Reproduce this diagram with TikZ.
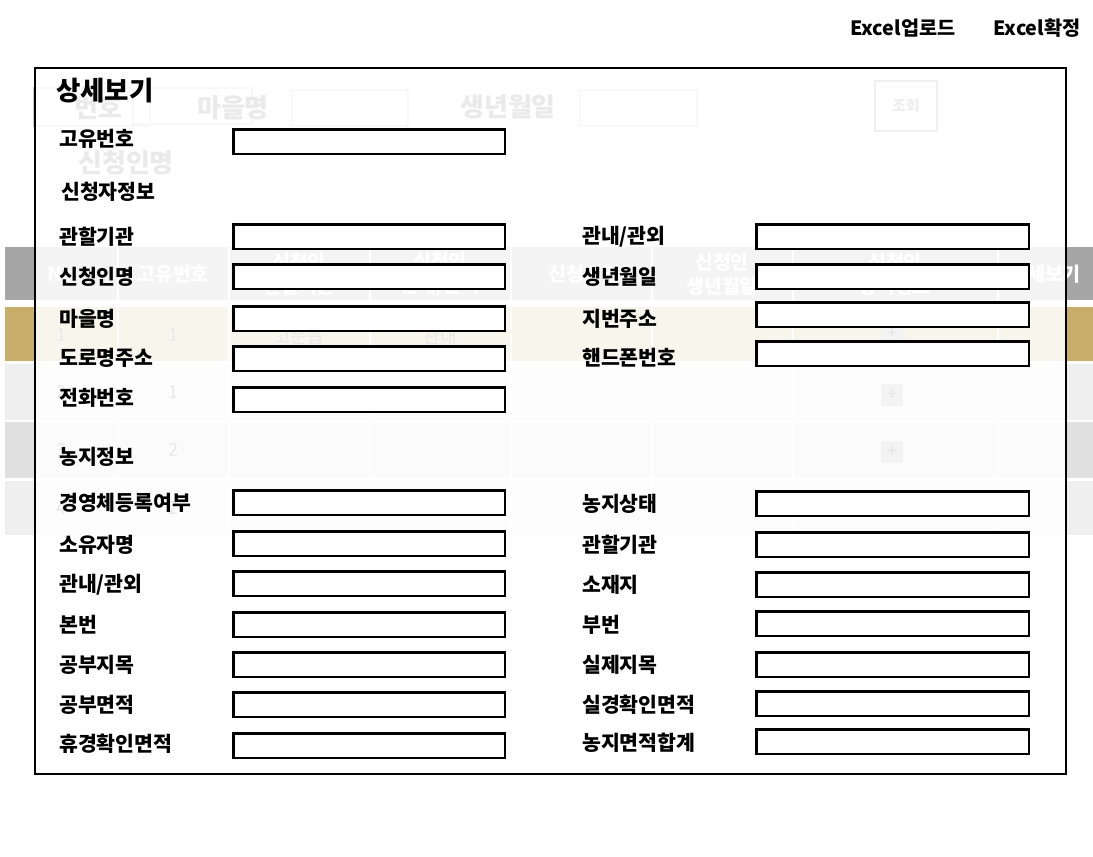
\documentclass[tikz,border=0pt]{standalone}
\usepackage{fontspec}
\setmainfont{Noto Sans CJK KR}
\definecolor{hdr}{HTML}{A6A6A6}
\definecolor{gold}{HTML}{C8AD6B}
\definecolor{rowa}{HTML}{EFEFEF}
\definecolor{rowb}{HTML}{E0E0E0}
\definecolor{bgdark}{HTML}{555555}
\definecolor{bgline}{HTML}{C8C8C8}
\definecolor{celltxt}{HTML}{444444}
\definecolor{plusbg}{HTML}{A0A0A0}
\definecolor{plusfg}{HTML}{333333}
\begin{document}
\begin{tikzpicture}[x=1pt,y=-1pt,
  fg/.style={font=\fontsize{20.5}{24}\selectfont\bfseries, inner sep=0, anchor=west},
  lfield/.style={draw=black, line width=2.5pt, fill=white, anchor=north west, minimum width=271.5pt, minimum height=24.5pt, inner sep=0},
  rfield/.style={lfield, minimum width=272.5pt},
  bgtxt/.style={font=\fontsize{26}{30}\selectfont\bfseries, text=bgdark, inner sep=0},
  bgbox/.style={draw=bgline, line width=1.2pt},
  hd/.style={font=\fontsize{19.5}{24}\selectfont\bfseries, text=white, align=center, inner sep=0},
  cell/.style={font=\fontsize{18}{20}\selectfont, text=celltxt, inner sep=0},
  plusbtn/.style={fill=plusbg, minimum size=22pt, inner sep=0, font=\fontsize{18}{18}\selectfont, text=plusfg},
  sep/.style={white, line width=2pt}
]
\useasboundingbox (0,0) rectangle (1093,857);
\fill[white] (0,0) rectangle (1093,857);

% ---------- top buttons ----------
\node[font=\fontsize{19.7}{23}\selectfont\bfseries, inner sep=0] (xlup) at (903,28) {Excel업로드};
\node[font=\fontsize{19.7}{23}\selectfont\bfseries, inner sep=0] (xlok) at (1037,28) {Excel확정};

% ---------- background search bar ----------
\draw[bgbox] (34,88) rectangle (150,126);
\draw[bgbox] (133,88) rectangle (252,124);
\draw[bgbox] (292,90) rectangle (408,126);
\draw[bgbox] (580,90) rectangle (697,126);
\node[bgtxt] (sno) at (98,108) {번호};
\node[bgtxt] (svil) at (233,108) {마을명};
\node[bgtxt] (sbirth) at (508,107) {생년월일};
\node[bgtxt] (sname) at (126,163) {신청인명};
\node[draw=bgdark!70, line width=1.5pt, minimum width=62pt, minimum height=50pt, inner sep=0,
      font=\fontsize{15}{17}\selectfont\bfseries, text=bgdark!80] (sbtn) at (906,106) {조회};

% ---------- background table ----------
\fill[hdr] (5,247) rectangle (1093,300);
\fill[gold] (5,307) rectangle (1093,361);
\fill[rowa] (5,364) rectangle (1093,420);
\fill[rowb] (5,422) rectangle (1093,478);
\fill[rowa] (5,481) rectangle (1093,535);
\foreach \cx in {117.5,229,370,511,652,793,998}{
  \draw[sep] (\cx,247) -- (\cx,535);
}
\node[hd] (h1) at (61,274) {No};
\node[hd] (h2) at (173,274) {고유번호};
\node[hd] (h3) at (299,274) {신청인\\관할기관};
\node[hd] (h4) at (440,274) {신청인\\관내/관외};
\node[hd] (h5) at (584,274) {신청인명};
\node[hd] (h6) at (722,274) {신청인\\생년월일};
\node[hd] (h7) at (895,274) {신청인\\농지정보};
\node[hd] (h8) at (1045,274) {상세보기};

\node[cell] (r1a) at (61,335) {1};
\node[cell] (r1b) at (173,335) {1};
\node[cell] (r1c) at (299,337) {고운읍};
\node[cell] (r1d) at (440,337) {관내};
\node[cell] (r2a) at (61,392) {2};
\node[cell] (r2b) at (173,392) {1};
\node[cell] (r3a) at (61,450) {3};
\node[cell] (r3b) at (173,450) {2};
\node[cell] (r4a) at (61,508) {4};
\node[cell] (r4b) at (173,508) {2};
\node[plusbtn] (p1) at (892,334) {+};
\node[plusbtn] (p2) at (892,395) {+};
\node[plusbtn] (p3) at (892,452) {+};

% ---------- modal panel (translucent) ----------
\node[draw=black, line width=2.5pt, fill=white, fill opacity=0.88, anchor=north west,
      minimum width=1031pt, minimum height=706pt, inner sep=0] (panel) at (33.5,66.5) {};

% ---------- foreground: title ----------
\node[font=\fontsize{26.5}{30}\selectfont\bfseries, inner sep=0, anchor=west] (title) at (56,91) {상세보기};

% ---------- left column ----------
\node[fg] (l1) at (59,139) {고유번호};
\node[lfield] (lf1) at (232.25,128.25) {};
\node[fg] (s1) at (61,192) {신청자정보};
\node[fg] (l2) at (59,237) {관할기관};
\node[lfield] (lf2) at (232.25,223.25) {};
\node[fg] (l3) at (59,277) {신청인명};
\node[lfield] (lf3) at (232.25,263.25) {};
\node[fg] (l4) at (59,319) {마을명};
\node[lfield] (lf4) at (232.25,305.25) {};
\node[fg] (l5) at (59,358) {도로명주소};
\node[lfield] (lf5) at (232.25,345.25) {};
\node[fg] (l6) at (59,398) {전화번호};
\node[lfield] (lf6) at (232.25,386.25) {};
\node[fg] (s2) at (59,457) {농지정보};
\node[fg] (l7) at (59,503) {경영체등록여부};
\node[lfield] (lf7) at (232.25,489.25) {};
\node[fg] (l8) at (59,545) {소유자명};
\node[lfield] (lf8) at (232.25,530.25) {};
\node[fg] (l9) at (59,585) {관내/관외};
\node[lfield] (lf9) at (232.25,570.25) {};
\node[fg] (l10) at (59,625) {본번};
\node[lfield] (lf10) at (232.25,611.25) {};
\node[fg] (l11) at (59,665) {공부지목};
\node[lfield] (lf11) at (232.25,651.25) {};
\node[fg] (l12) at (59,705) {공부면적};
\node[lfield] (lf12) at (232.25,691.25) {};
\node[fg] (l13) at (59,744) {휴경확인면적};
\node[lfield] (lf13) at (232.25,732.25) {};

% ---------- right column ----------
\node[fg] (q1) at (582,237) {관내/관외};
\node[rfield] (rf1) at (755.25,223.25) {};
\node[fg] (q2) at (582,277) {생년월일};
\node[rfield] (rf2) at (755.25,263.25) {};
\node[fg] (q3) at (582,319) {지번주소};
\node[rfield] (rf3) at (755.25,301.25) {};
\node[fg] (q4) at (582,358) {핸드폰번호};
\node[rfield] (rf4) at (755.25,340.25) {};
\node[fg] (q5) at (582,504) {농지상태};
\node[rfield] (rf5) at (755.25,490.25) {};
\node[fg] (q6) at (582,545) {관할기관};
\node[rfield] (rf6) at (755.25,531.25) {};
\node[fg] (q7) at (582,585) {소재지};
\node[rfield] (rf7) at (755.25,571.25) {};
\node[fg] (q8) at (582,625) {부번};
\node[rfield] (rf8) at (755.25,610.25) {};
\node[fg] (q9) at (582,665) {실제지목};
\node[rfield] (rf9) at (755.25,651.25) {};
\node[fg] (q10) at (582,705) {실경확인면적};
\node[rfield] (rf10) at (755.25,690.25) {};
\node[fg] (q11) at (582,743) {농지면적합계};
\node[rfield] (rf11) at (755.25,728.25) {};
\end{tikzpicture}
\end{document}
